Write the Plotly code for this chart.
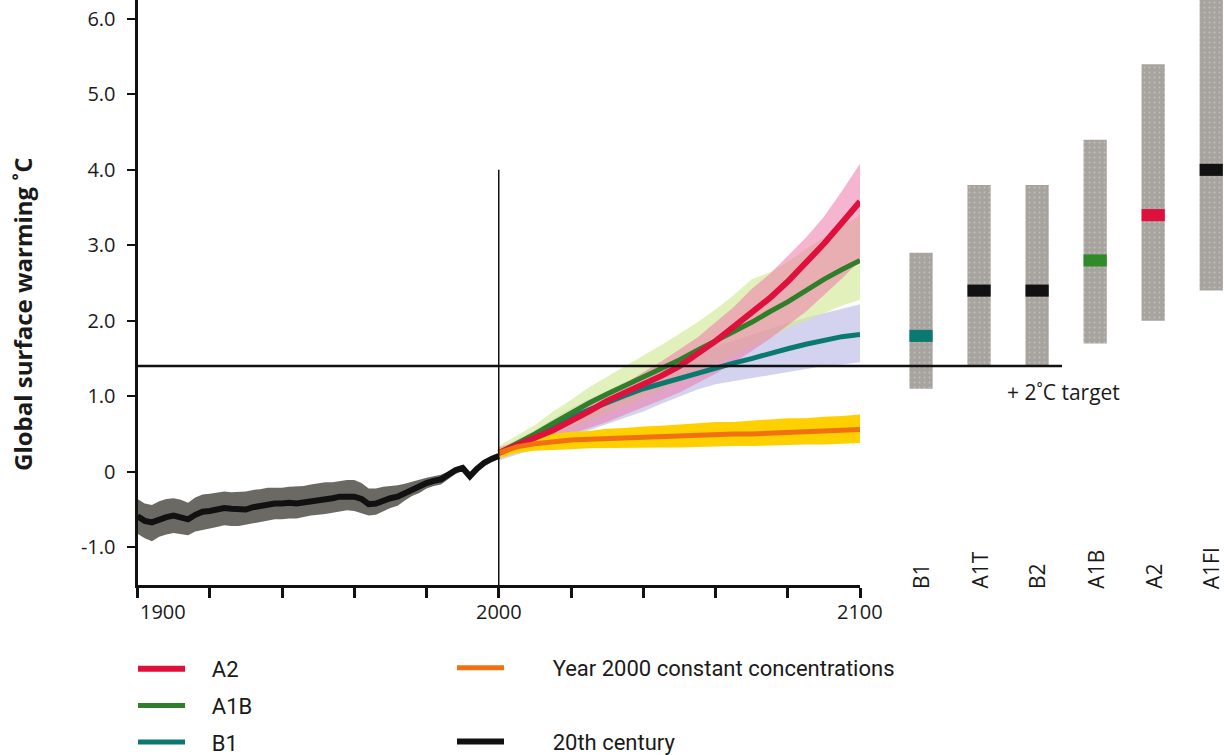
import plotly.graph_objects as go

# ---------------- data ----------------
HIST_YEARS = list(range(1900, 2001, 2))
HIST_MEAN = [-0.59, -0.65, -0.67, -0.63, -0.60, -0.58, -0.60, -0.63, -0.57, -0.53,
             -0.52, -0.50, -0.48, -0.49, -0.50, -0.50, -0.47, -0.45, -0.43, -0.42,
             -0.42, -0.41, -0.42, -0.41, -0.39, -0.37, -0.36, -0.35, -0.33, -0.32,
             -0.33, -0.36, -0.43, -0.42, -0.38, -0.35, -0.33, -0.28, -0.23, -0.20,
             -0.15, -0.12, -0.10, -0.04, 0.02, 0.05, -0.06, 0.04, 0.12, 0.17, 0.21]
HIST_UP = [-0.36, -0.42, -0.44, -0.39, -0.36, -0.35, -0.37, -0.41, -0.34, -0.30,
           -0.29, -0.27, -0.26, -0.27, -0.27, -0.26, -0.24, -0.23, -0.21, -0.21,
           -0.21, -0.20, -0.20, -0.19, -0.17, -0.15, -0.14, -0.14, -0.12, -0.11,
           -0.11, -0.15, -0.22, -0.22, -0.20, -0.19, -0.18, -0.16, -0.13, -0.11,
           -0.08, -0.06, -0.04, 0.00, 0.06, 0.09, -0.01, 0.08, 0.15, 0.19, 0.24]
HIST_LO = [-0.82, -0.88, -0.92, -0.86, -0.83, -0.81, -0.82, -0.84, -0.79, -0.76,
           -0.75, -0.73, -0.71, -0.72, -0.72, -0.71, -0.69, -0.67, -0.65, -0.63,
           -0.63, -0.62, -0.62, -0.60, -0.58, -0.57, -0.56, -0.55, -0.53, -0.51,
           -0.52, -0.55, -0.58, -0.57, -0.52, -0.48, -0.45, -0.38, -0.32, -0.28,
           -0.22, -0.19, -0.17, -0.10, -0.03, 0.01, -0.12, 0.00, 0.09, 0.14, 0.18]

FUT_YEARS = list(range(2000, 2101, 5))
A2_MEAN = [0.25, 0.34, 0.45, 0.55, 0.67, 0.80, 0.94, 1.05, 1.15, 1.27, 1.40,
           1.56, 1.73, 1.92, 2.10, 2.30, 2.52, 2.76, 3.02, 3.30, 3.58]
A2_UP = [0.32, 0.40, 0.52, 0.62, 0.78, 0.90, 1.05, 1.17, 1.32, 1.46, 1.62,
         1.78, 1.98, 2.18, 2.42, 2.62, 2.86, 3.10, 3.38, 3.72, 4.08]
A2_LO = [0.18, 0.26, 0.34, 0.42, 0.50, 0.58, 0.66, 0.76, 0.86, 0.95, 1.05,
         1.17, 1.30, 1.44, 1.60, 1.76, 1.94, 2.12, 2.34, 2.56, 2.80]

A1B_MEAN = [0.25, 0.37, 0.50, 0.64, 0.78, 0.91, 1.03, 1.14, 1.25, 1.37, 1.48,
            1.61, 1.73, 1.86, 1.98, 2.12, 2.25, 2.40, 2.55, 2.68, 2.80]
A1B_UP = [0.34, 0.48, 0.62, 0.80, 0.95, 1.12, 1.26, 1.40, 1.53, 1.68, 1.83,
          1.98, 2.15, 2.34, 2.55, 2.64, 2.78, 2.95, 3.10, 3.26, 3.40]
A1B_LO = [0.17, 0.27, 0.37, 0.47, 0.58, 0.68, 0.78, 0.88, 0.98, 1.08, 1.18,
          1.30, 1.42, 1.54, 1.66, 1.78, 1.90, 2.00, 2.10, 2.20, 2.28]

B1_MEAN = [0.25, 0.36, 0.48, 0.60, 0.72, 0.82, 0.92, 1.01, 1.10, 1.17, 1.23,
           1.31, 1.38, 1.44, 1.50, 1.57, 1.63, 1.69, 1.74, 1.79, 1.82]
B1_UP = [0.30, 0.42, 0.55, 0.70, 0.84, 0.96, 1.08, 1.19, 1.30, 1.40, 1.49,
         1.58, 1.66, 1.74, 1.82, 1.90, 1.97, 2.04, 2.10, 2.16, 2.22]
B1_LO = [0.15, 0.22, 0.30, 0.38, 0.46, 0.55, 0.63, 0.72, 0.80, 0.90, 1.00,
         1.09, 1.16, 1.20, 1.25, 1.29, 1.33, 1.36, 1.40, 1.42, 1.45]

CONST_MEAN = [0.25, 0.33, 0.37, 0.40, 0.42, 0.43, 0.44, 0.45, 0.46, 0.46, 0.47,
              0.48, 0.49, 0.50, 0.50, 0.51, 0.52, 0.53, 0.54, 0.55, 0.56]
CONST_UP = [0.30, 0.40, 0.47, 0.50, 0.53, 0.54, 0.57, 0.58, 0.60, 0.61, 0.63,
            0.64, 0.66, 0.66, 0.68, 0.69, 0.71, 0.71, 0.73, 0.74, 0.76]
CONST_LO = [0.18, 0.25, 0.28, 0.29, 0.30, 0.31, 0.31, 0.31, 0.32, 0.32, 0.32,
            0.33, 0.33, 0.34, 0.34, 0.35, 0.35, 0.36, 0.36, 0.37, 0.38]

SCENARIOS = ["B1", "A1T", "B2", "A1B", "A2", "A1FI"]
SCEN_LOW = [1.1, 1.4, 1.4, 1.7, 2.0, 2.4]
SCEN_HIGH = [2.9, 3.8, 3.8, 4.4, 5.4, 6.4]
SCEN_BEST = [1.8, 2.4, 2.4, 2.8, 3.4, 4.0]
SCEN_BEST_COLORS = ["#0a7a70", "#111111", "#111111", "#2f8a2a", "#e0103c", "#111111"]

TARGET = 1.4
Y_TICKS = [-1, 0, 1, 2, 3, 4, 5, 6]
Y_TICKTEXT = ["-1.0", "0", "1.0", "2.0", "3.0", "4.0", "5.0", "6.0"]
X_TICKS = list(range(1900, 2101, 20))
X_LABELS = [1900, 2000, 2100]

# ---------------- figure ----------------
W, H = 1224, 755
PLOT_B = 170
PH = H - PLOT_B
FONT = "Open Sans"
NB = "\u00a0"

fig = go.Figure()


def band(x, up, lo, color):
    fig.add_trace(go.Scatter(
        x=list(x) + list(x)[::-1], y=list(up) + list(lo)[::-1],
        fill="toself", fillcolor=color, line=dict(width=0),
        mode="lines", showlegend=False, hoverinfo="skip"))


band(FUT_YEARS, B1_UP, B1_LO, "rgba(200,200,236,0.8)")
band(FUT_YEARS, A1B_UP, A1B_LO, "rgba(210,232,150,0.65)")
band(FUT_YEARS, A2_UP, A2_LO, "rgba(236,120,170,0.55)")
band(FUT_YEARS, CONST_UP, CONST_LO, "rgb(255,208,0)")
band(HIST_YEARS, HIST_UP, HIST_LO, "#6b6964")

fig.add_trace(go.Scatter(x=FUT_YEARS, y=B1_MEAN, mode="lines", name=NB * 4 + "B1",
                         line=dict(color="#0a7a70", width=5),
                         legend="legend", legendrank=3, legendgroup="b1"))
fig.add_trace(go.Scatter(x=FUT_YEARS, y=A1B_MEAN, mode="lines", name=NB * 4 + "A1B",
                         line=dict(color="#2f7f2a", width=5),
                         legend="legend", legendrank=2, legendgroup="a1b"))
fig.add_trace(go.Scatter(x=FUT_YEARS, y=A2_MEAN, mode="lines", name=NB * 4 + "A2",
                         line=dict(color="#e0103c", width=6),
                         legend="legend", legendrank=1, legendgroup="a2"))
fig.add_trace(go.Scatter(x=FUT_YEARS, y=CONST_MEAN, mode="lines",
                         name=NB * 8 + "Year 2000 constant concentrations",
                         line=dict(color="#f07012", width=5),
                         legend="legend2", legendrank=1, legendgroup="c"))
fig.add_trace(go.Scatter(x=HIST_YEARS, y=HIST_MEAN, mode="lines",
                         name=NB * 8 + "20th century",
                         line=dict(color="#111111", width=6),
                         legend="legend2", legendrank=2, legendgroup="h"))

# scenario range bars
fig.add_trace(go.Bar(
    x=SCENARIOS, y=[h - l for h, l in zip(SCEN_HIGH, SCEN_LOW)], base=SCEN_LOW,
    xaxis="x2", yaxis="y", width=0.4, showlegend=False,
    marker=dict(color="#a7a39e", line=dict(width=0),
                pattern=dict(shape=".", fgcolor="#dcdad6", bgcolor="#a7a39e",
                             size=5, solidity=0.12))))
BEST_H = 0.16
fig.add_trace(go.Bar(
    x=SCENARIOS, y=[BEST_H] * len(SCENARIOS), base=[b - BEST_H / 2 for b in SCEN_BEST],
    xaxis="x2", yaxis="y", width=0.4, showlegend=False,
    marker=dict(color=SCEN_BEST_COLORS, line=dict(width=0))))

x_dom = [137.5 / W, 860 / W]
x2_dom = [892 / W, 1.0]

legend_common = dict(xanchor="left", yanchor="top",
                     font=dict(family="Roboto", size=22, color="#1a1a1a"),
                     itemwidth=47, bgcolor="rgba(0,0,0,0)")

fig.update_layout(
    width=W, height=H,
    margin=dict(l=0, r=0, t=0, b=PLOT_B, autoexpand=False),
    paper_bgcolor="white", plot_bgcolor="white",
    barmode="overlay",
    font=dict(family=FONT, color="#1a1a1a", size=20),
    xaxis=dict(domain=x_dom, range=[1900, 2100], showgrid=False, zeroline=False,
               showline=True, linewidth=3, linecolor="#111", automargin=False,
               ticks="outside", tickvals=X_TICKS, ticklen=10, tickwidth=2.5,
               tickcolor="#111", showticklabels=False, anchor="y"),
    xaxis2=dict(domain=x2_dom, range=[-0.5, 5.22], type="category",
                visible=False, anchor="y", automargin=False),
    yaxis=dict(range=[-1.5, 6.25], showgrid=False, zeroline=False, automargin=False,
               showline=True, linewidth=3, linecolor="#111",
               ticks="outside", tickvals=Y_TICKS, ticktext=Y_TICKTEXT,
               ticklen=8, tickwidth=2, tickcolor="#111",
               ticklabelstandoff=7, tickfont=dict(size=20), anchor="x"),
    legend=dict(x=133 / W, y=(PH - 648) / PH, tracegroupgap=5, **legend_common),
    legend2=dict(x=452 / W, y=(PH - 647) / PH, tracegroupgap=42, **legend_common),
    showlegend=True,
)

# reference lines
fig.add_shape(type="line", xref="paper", yref="y", x0=137.5 / W, x1=1062 / W,
              y0=TARGET, y1=TARGET, line=dict(color="#111", width=2.5))
fig.add_shape(type="line", xref="x", yref="y", x0=2000, x1=2000, y0=-1.5, y1=4.0,
              line=dict(color="#111", width=1.5))

# year labels
for yr in X_LABELS:
    fig.add_annotation(x=yr, xref="x", y=(PH - 611) / PH, yref="paper",
                       text=str(yr), showarrow=False,
                       xanchor="left" if yr == X_LABELS[0] else "center",
                       yanchor="middle", font=dict(size=20))

# scenario labels
for s in SCENARIOS:
    fig.add_annotation(x=s, xref="x2", y=(PH - 591) / PH, yref="paper", text=s,
                       showarrow=False, textangle=-90, yanchor="bottom",
                       xanchor="center", font=dict(size=21))

fig.add_annotation(x=1063 / W, xref="paper", y=(PH - 392) / PH, yref="paper",
                   text="+ 2˚C target", showarrow=False, xanchor="center",
                   yanchor="middle", font=dict(size=21))

fig.add_annotation(x=22 / W, xref="paper", y=(PH - 315) / PH, yref="paper",
                   text="<b>Global surface warming ˚C</b>", showarrow=False,
                   textangle=-90, xanchor="center", yanchor="middle",
                   font=dict(size=24))

fig.write_html("out.html",
               config={"displayModeBar": False},
               post_script="document.body.style.margin='0px';"
                           "document.body.style.overflow='hidden';")
